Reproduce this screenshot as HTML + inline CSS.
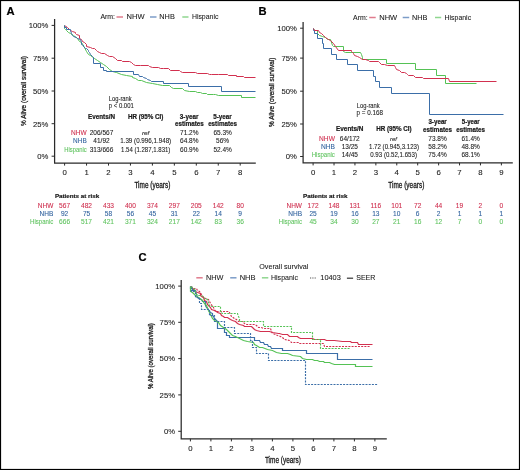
<!DOCTYPE html>
<html><head><meta charset="utf-8"><style>
html,body{margin:0;padding:0;background:#fff;}
svg{display:block;will-change:transform;}
text{font-family:"Liberation Sans", sans-serif;}
</style></head><body>
<svg width="520" height="470" viewBox="0 0 520 470" fill="#1a1a1a">
<rect width="520" height="470" fill="#fff"/>
<text x="6.60" y="14.70" font-size="11.2" font-weight="bold" fill="#000" stroke="#000" stroke-width="0.2">A</text>
<text x="100.40" y="19.10" font-size="7.3" textLength="14.60" lengthAdjust="spacingAndGlyphs" stroke="#1a1a1a" stroke-width="0.08">Arm:</text>
<line x1="116.50" y1="17.00" x2="123.00" y2="17.00" stroke="#e07b8d" stroke-width="1.5"/>
<text x="126.50" y="19.10" font-size="7.6" textLength="18.00" lengthAdjust="spacingAndGlyphs" stroke="#1a1a1a" stroke-width="0.08">NHW</text>
<line x1="150.00" y1="17.00" x2="156.50" y2="17.00" stroke="#7c9cc8" stroke-width="1.5"/>
<text x="159.30" y="19.10" font-size="7.6" textLength="15.50" lengthAdjust="spacingAndGlyphs" stroke="#1a1a1a" stroke-width="0.08">NHB</text>
<line x1="182.30" y1="17.00" x2="188.50" y2="17.00" stroke="#8fd68f" stroke-width="1.5"/>
<text x="191.90" y="19.10" font-size="7.6" textLength="26.50" lengthAdjust="spacingAndGlyphs" stroke="#1a1a1a" stroke-width="0.08">Hispanic</text>
<path d="M54.60,19.00 V163.00 H255.80" fill="none" stroke="#2a2a2a" stroke-width="1.25"/>
<line x1="51.60" y1="25.40" x2="54.60" y2="25.40" stroke="#2a2a2a" stroke-width="1.0"/>
<line x1="51.60" y1="58.20" x2="54.60" y2="58.20" stroke="#2a2a2a" stroke-width="1.0"/>
<line x1="51.60" y1="91.00" x2="54.60" y2="91.00" stroke="#2a2a2a" stroke-width="1.0"/>
<line x1="51.60" y1="123.70" x2="54.60" y2="123.70" stroke="#2a2a2a" stroke-width="1.0"/>
<line x1="51.60" y1="156.20" x2="54.60" y2="156.20" stroke="#2a2a2a" stroke-width="1.0"/>
<line x1="64.60" y1="163.00" x2="64.60" y2="165.60" stroke="#2a2a2a" stroke-width="1.0"/>
<text x="64.60" y="174.80" font-size="7.8" text-anchor="middle" stroke="#1a1a1a" stroke-width="0.08">0</text>
<line x1="86.55" y1="163.00" x2="86.55" y2="165.60" stroke="#2a2a2a" stroke-width="1.0"/>
<text x="86.55" y="174.80" font-size="7.8" text-anchor="middle" stroke="#1a1a1a" stroke-width="0.08">1</text>
<line x1="108.50" y1="163.00" x2="108.50" y2="165.60" stroke="#2a2a2a" stroke-width="1.0"/>
<text x="108.50" y="174.80" font-size="7.8" text-anchor="middle" stroke="#1a1a1a" stroke-width="0.08">2</text>
<line x1="130.45" y1="163.00" x2="130.45" y2="165.60" stroke="#2a2a2a" stroke-width="1.0"/>
<text x="130.45" y="174.80" font-size="7.8" text-anchor="middle" stroke="#1a1a1a" stroke-width="0.08">3</text>
<line x1="152.40" y1="163.00" x2="152.40" y2="165.60" stroke="#2a2a2a" stroke-width="1.0"/>
<text x="152.40" y="174.80" font-size="7.8" text-anchor="middle" stroke="#1a1a1a" stroke-width="0.08">4</text>
<line x1="174.35" y1="163.00" x2="174.35" y2="165.60" stroke="#2a2a2a" stroke-width="1.0"/>
<text x="174.35" y="174.80" font-size="7.8" text-anchor="middle" stroke="#1a1a1a" stroke-width="0.08">5</text>
<line x1="196.30" y1="163.00" x2="196.30" y2="165.60" stroke="#2a2a2a" stroke-width="1.0"/>
<text x="196.30" y="174.80" font-size="7.8" text-anchor="middle" stroke="#1a1a1a" stroke-width="0.08">6</text>
<line x1="218.25" y1="163.00" x2="218.25" y2="165.60" stroke="#2a2a2a" stroke-width="1.0"/>
<text x="218.25" y="174.80" font-size="7.8" text-anchor="middle" stroke="#1a1a1a" stroke-width="0.08">7</text>
<line x1="240.20" y1="163.00" x2="240.20" y2="165.60" stroke="#2a2a2a" stroke-width="1.0"/>
<text x="240.20" y="174.80" font-size="7.8" text-anchor="middle" stroke="#1a1a1a" stroke-width="0.08">8</text>
<text x="48.40" y="28.20" font-size="7.7" text-anchor="end" stroke="#1a1a1a" stroke-width="0.08">100%</text>
<text x="48.40" y="61.00" font-size="7.7" text-anchor="end" stroke="#1a1a1a" stroke-width="0.08">75%</text>
<text x="48.40" y="93.80" font-size="7.7" text-anchor="end" stroke="#1a1a1a" stroke-width="0.08">50%</text>
<text x="48.40" y="126.50" font-size="7.7" text-anchor="end" stroke="#1a1a1a" stroke-width="0.08">25%</text>
<text x="48.40" y="159.00" font-size="7.7" text-anchor="end" stroke="#1a1a1a" stroke-width="0.08">0%</text>
<text x="134.40" y="187.70" font-size="8.3" textLength="36.00" lengthAdjust="spacingAndGlyphs" stroke="#1a1a1a" stroke-width="0.3">Time (years)</text>
<text x="0.00" y="0.00" font-size="7.7" textLength="70.00" lengthAdjust="spacingAndGlyphs" stroke="#1a1a1a" stroke-width="0.3" transform="translate(25.7,126.0) rotate(-90)">% Alive (overall survival)</text>
<polyline points="64.50,25.50 67.50,27.50 69.50,29.50 70.50,30.50 72.50,31.50 75.50,32.50 75.50,33.50 76.50,34.50 79.50,35.50 79.50,38.50 81.50,39.50 82.50,41.50 84.50,42.50 86.50,44.50 86.50,46.50 90.50,47.50 92.50,48.50 94.50,48.50 96.50,50.50 97.50,51.50 99.50,52.50 101.50,53.50 104.50,53.50 107.50,55.50 109.50,56.50 112.50,56.50 115.50,58.50 117.50,60.50 121.50,60.50 122.50,61.50 129.50,61.50 131.50,62.50 133.50,64.50 135.50,65.50 140.50,65.50 148.50,65.50 149.50,66.50 152.50,67.50 158.50,67.50 160.50,68.50 163.50,68.50 168.50,68.50 170.50,70.50 179.50,70.50 180.50,71.50 182.50,72.50 195.50,72.50 197.50,73.50 207.50,73.50 209.50,74.50 211.50,74.50 218.50,74.50 227.50,74.50 228.50,75.50 236.50,75.50 236.50,76.50 243.50,76.50 244.50,77.50 255.50,77.50" fill="none" stroke="#d2304f" stroke-width="1.0" stroke-linejoin="miter"/>
<polyline points="64.50,25.50 64.50,28.50 65.50,29.50 66.50,30.50 68.50,32.50 70.50,33.50 73.50,35.50 77.50,38.50 79.50,41.50 81.50,42.50 84.50,47.50 86.50,51.50 88.50,54.50 90.50,55.50 94.50,58.50 97.50,60.50 100.50,62.50 103.50,64.50 106.50,66.50 109.50,69.50 112.50,71.50 116.50,72.50 121.50,74.50 126.50,75.50 132.50,76.50 132.50,77.50 135.50,78.50 138.50,80.50 141.50,80.50 146.50,82.50 152.50,83.50 157.50,84.50 162.50,85.50 169.50,85.50 171.50,87.50 173.50,88.50 182.50,88.50 184.50,90.50 189.50,91.50 195.50,91.50 197.50,92.50 200.50,92.50 202.50,93.50 206.50,93.50 207.50,94.50 213.50,94.50 215.50,94.50 218.50,95.50 241.50,95.50 241.50,97.50 255.50,97.50" fill="none" stroke="#55c255" stroke-width="1.0" stroke-linejoin="miter"/>
<polyline points="64.50,25.50 64.50,27.50 66.50,27.50 66.50,29.50 70.50,29.50 70.50,30.50 71.50,33.50 72.50,35.50 73.50,36.50 76.50,37.50 77.50,38.50 80.50,39.50 81.50,42.50 81.50,44.50 83.50,45.50 83.50,46.50 85.50,48.50 86.50,48.50 88.50,50.50 88.50,51.50 89.50,52.50 90.50,54.50 92.50,56.50 93.50,57.50 93.50,63.50 100.50,63.50 100.50,67.50 103.50,67.50 103.50,70.50 106.50,70.50 106.50,71.50 133.50,71.50 133.50,74.50 138.50,74.50 139.50,76.50 142.50,76.50 143.50,77.50 146.50,78.50 147.50,79.50 150.50,80.50 151.50,81.50 163.50,81.50 163.50,83.50 188.50,83.50 188.50,86.50 221.50,86.50 221.50,91.50 255.50,91.50" fill="none" stroke="#3b6ea8" stroke-width="1.0" stroke-linejoin="miter"/>
<text x="108.80" y="100.80" font-size="6.5" textLength="22.90" lengthAdjust="spacingAndGlyphs" stroke="#1a1a1a" stroke-width="0.08">Log-rank</text>
<text x="108.80" y="108.30" font-size="6.5" textLength="25.00" lengthAdjust="spacingAndGlyphs" stroke="#1a1a1a" stroke-width="0.08">p &lt; 0.001</text>
<text x="88.00" y="118.50" font-size="6.3" textLength="27.00" lengthAdjust="spacingAndGlyphs" font-weight="bold" stroke="#1a1a1a" stroke-width="0.2">Events/N</text>
<text x="127.90" y="118.50" font-size="6.3" textLength="35.50" lengthAdjust="spacingAndGlyphs" font-weight="bold" stroke="#1a1a1a" stroke-width="0.2">HR (95% CI)</text>
<text x="189.10" y="118.60" font-size="6.3" text-anchor="middle" textLength="18.60" lengthAdjust="spacingAndGlyphs" font-weight="bold" stroke="#1a1a1a" stroke-width="0.2">3-year</text>
<text x="189.40" y="125.90" font-size="6.6" text-anchor="middle" textLength="28.90" lengthAdjust="spacingAndGlyphs" font-weight="bold" stroke="#1a1a1a" stroke-width="0.2">estimates</text>
<text x="222.50" y="118.60" font-size="6.3" text-anchor="middle" textLength="18.50" lengthAdjust="spacingAndGlyphs" font-weight="bold" stroke="#1a1a1a" stroke-width="0.2">5-year</text>
<text x="222.60" y="125.90" font-size="6.6" text-anchor="middle" textLength="28.90" lengthAdjust="spacingAndGlyphs" font-weight="bold" stroke="#1a1a1a" stroke-width="0.2">estimates</text>
<text x="86.70" y="135.10" font-size="6.5" text-anchor="end" textLength="15.60" lengthAdjust="spacingAndGlyphs" fill="#cf2d4d" stroke="#cf2d4d" stroke-width="0.08">NHW</text>
<text x="101.50" y="135.10" font-size="6.5" text-anchor="middle" stroke="#1a1a1a" stroke-width="0.08">206/567</text>
<text x="145.60" y="134.80" font-size="5.9" text-anchor="middle" textLength="7.40" lengthAdjust="spacingAndGlyphs" font-style="italic" stroke="#1a1a1a" stroke-width="0.08">ref</text>
<text x="189.30" y="135.10" font-size="6.5" text-anchor="middle" stroke="#1a1a1a" stroke-width="0.08">71.2%</text>
<text x="222.60" y="135.10" font-size="6.5" text-anchor="middle" stroke="#1a1a1a" stroke-width="0.08">65.3%</text>
<text x="86.70" y="143.40" font-size="6.5" text-anchor="end" textLength="13.60" lengthAdjust="spacingAndGlyphs" fill="#30629e" stroke="#30629e" stroke-width="0.08">NHB</text>
<text x="101.50" y="143.40" font-size="6.5" text-anchor="middle" stroke="#1a1a1a" stroke-width="0.08">41/92</text>
<text x="145.70" y="143.40" font-size="6.4" text-anchor="middle" textLength="51.00" lengthAdjust="spacingAndGlyphs" stroke="#1a1a1a" stroke-width="0.08">1.39 (0.996,1.948)</text>
<text x="189.30" y="143.40" font-size="6.5" text-anchor="middle" stroke="#1a1a1a" stroke-width="0.08">64.8%</text>
<text x="222.60" y="143.40" font-size="6.5" text-anchor="middle" stroke="#1a1a1a" stroke-width="0.08">56%</text>
<text x="86.70" y="151.60" font-size="6.5" text-anchor="end" textLength="22.40" lengthAdjust="spacingAndGlyphs" fill="#5ec35e" stroke="#5ec35e" stroke-width="0.08">Hispanic</text>
<text x="101.50" y="151.60" font-size="6.5" text-anchor="middle" stroke="#1a1a1a" stroke-width="0.08">313/666</text>
<text x="145.70" y="151.60" font-size="6.4" text-anchor="middle" textLength="49.30" lengthAdjust="spacingAndGlyphs" stroke="#1a1a1a" stroke-width="0.08">1.54 (1.287,1.831)</text>
<text x="189.30" y="151.60" font-size="6.5" text-anchor="middle" stroke="#1a1a1a" stroke-width="0.08">60.9%</text>
<text x="222.60" y="151.60" font-size="6.5" text-anchor="middle" stroke="#1a1a1a" stroke-width="0.08">52.4%</text>
<text x="54.90" y="198.10" font-size="6.0" textLength="44.20" lengthAdjust="spacingAndGlyphs" font-weight="bold" stroke="#1a1a1a" stroke-width="0.2">Patients at risk</text>
<text x="53.30" y="207.50" font-size="6.6" text-anchor="end" textLength="15.50" lengthAdjust="spacingAndGlyphs" fill="#cf2d4d" stroke="#cf2d4d" stroke-width="0.08">NHW</text>
<text x="64.60" y="207.50" font-size="6.6" text-anchor="middle" fill="#cf2d4d" stroke="#cf2d4d" stroke-width="0.08">567</text>
<text x="86.55" y="207.50" font-size="6.6" text-anchor="middle" fill="#cf2d4d" stroke="#cf2d4d" stroke-width="0.08">482</text>
<text x="108.50" y="207.50" font-size="6.6" text-anchor="middle" fill="#cf2d4d" stroke="#cf2d4d" stroke-width="0.08">433</text>
<text x="130.45" y="207.50" font-size="6.6" text-anchor="middle" fill="#cf2d4d" stroke="#cf2d4d" stroke-width="0.08">400</text>
<text x="152.40" y="207.50" font-size="6.6" text-anchor="middle" fill="#cf2d4d" stroke="#cf2d4d" stroke-width="0.08">374</text>
<text x="174.35" y="207.50" font-size="6.6" text-anchor="middle" fill="#cf2d4d" stroke="#cf2d4d" stroke-width="0.08">297</text>
<text x="196.30" y="207.50" font-size="6.6" text-anchor="middle" fill="#cf2d4d" stroke="#cf2d4d" stroke-width="0.08">205</text>
<text x="218.25" y="207.50" font-size="6.6" text-anchor="middle" fill="#cf2d4d" stroke="#cf2d4d" stroke-width="0.08">142</text>
<text x="240.20" y="207.50" font-size="6.6" text-anchor="middle" fill="#cf2d4d" stroke="#cf2d4d" stroke-width="0.08">80</text>
<text x="53.30" y="215.80" font-size="6.6" text-anchor="end" textLength="13.80" lengthAdjust="spacingAndGlyphs" fill="#30629e" stroke="#30629e" stroke-width="0.08">NHB</text>
<text x="64.60" y="215.80" font-size="6.6" text-anchor="middle" fill="#30629e" stroke="#30629e" stroke-width="0.08">92</text>
<text x="86.55" y="215.80" font-size="6.6" text-anchor="middle" fill="#30629e" stroke="#30629e" stroke-width="0.08">75</text>
<text x="108.50" y="215.80" font-size="6.6" text-anchor="middle" fill="#30629e" stroke="#30629e" stroke-width="0.08">58</text>
<text x="130.45" y="215.80" font-size="6.6" text-anchor="middle" fill="#30629e" stroke="#30629e" stroke-width="0.08">56</text>
<text x="152.40" y="215.80" font-size="6.6" text-anchor="middle" fill="#30629e" stroke="#30629e" stroke-width="0.08">45</text>
<text x="174.35" y="215.80" font-size="6.6" text-anchor="middle" fill="#30629e" stroke="#30629e" stroke-width="0.08">31</text>
<text x="196.30" y="215.80" font-size="6.6" text-anchor="middle" fill="#30629e" stroke="#30629e" stroke-width="0.08">22</text>
<text x="218.25" y="215.80" font-size="6.6" text-anchor="middle" fill="#30629e" stroke="#30629e" stroke-width="0.08">14</text>
<text x="240.20" y="215.80" font-size="6.6" text-anchor="middle" fill="#30629e" stroke="#30629e" stroke-width="0.08">9</text>
<text x="53.30" y="223.80" font-size="6.6" text-anchor="end" textLength="23.20" lengthAdjust="spacingAndGlyphs" fill="#5ec35e" stroke="#5ec35e" stroke-width="0.08">Hispanic</text>
<text x="64.60" y="223.80" font-size="6.6" text-anchor="middle" fill="#5ec35e" stroke="#5ec35e" stroke-width="0.08">666</text>
<text x="86.55" y="223.80" font-size="6.6" text-anchor="middle" fill="#5ec35e" stroke="#5ec35e" stroke-width="0.08">517</text>
<text x="108.50" y="223.80" font-size="6.6" text-anchor="middle" fill="#5ec35e" stroke="#5ec35e" stroke-width="0.08">421</text>
<text x="130.45" y="223.80" font-size="6.6" text-anchor="middle" fill="#5ec35e" stroke="#5ec35e" stroke-width="0.08">371</text>
<text x="152.40" y="223.80" font-size="6.6" text-anchor="middle" fill="#5ec35e" stroke="#5ec35e" stroke-width="0.08">324</text>
<text x="174.35" y="223.80" font-size="6.6" text-anchor="middle" fill="#5ec35e" stroke="#5ec35e" stroke-width="0.08">217</text>
<text x="196.30" y="223.80" font-size="6.6" text-anchor="middle" fill="#5ec35e" stroke="#5ec35e" stroke-width="0.08">142</text>
<text x="218.25" y="223.80" font-size="6.6" text-anchor="middle" fill="#5ec35e" stroke="#5ec35e" stroke-width="0.08">83</text>
<text x="240.20" y="223.80" font-size="6.6" text-anchor="middle" fill="#5ec35e" stroke="#5ec35e" stroke-width="0.08">36</text>
<text x="258.60" y="14.90" font-size="11.2" font-weight="bold" fill="#000" stroke="#000" stroke-width="0.2">B</text>
<text x="353.10" y="19.60" font-size="7.3" textLength="14.60" lengthAdjust="spacingAndGlyphs" stroke="#1a1a1a" stroke-width="0.08">Arm:</text>
<line x1="369.20" y1="17.50" x2="375.70" y2="17.50" stroke="#e07b8d" stroke-width="1.5"/>
<text x="379.20" y="19.60" font-size="7.6" textLength="18.00" lengthAdjust="spacingAndGlyphs" stroke="#1a1a1a" stroke-width="0.08">NHW</text>
<line x1="402.70" y1="17.50" x2="409.20" y2="17.50" stroke="#7c9cc8" stroke-width="1.5"/>
<text x="412.00" y="19.60" font-size="7.6" textLength="15.50" lengthAdjust="spacingAndGlyphs" stroke="#1a1a1a" stroke-width="0.08">NHB</text>
<line x1="435.00" y1="17.50" x2="441.20" y2="17.50" stroke="#8fd68f" stroke-width="1.5"/>
<text x="444.60" y="19.60" font-size="7.6" textLength="26.50" lengthAdjust="spacingAndGlyphs" stroke="#1a1a1a" stroke-width="0.08">Hispanic</text>
<path d="M303.10,22.00 V162.80 H512.80" fill="none" stroke="#2a2a2a" stroke-width="1.25"/>
<line x1="300.10" y1="28.20" x2="303.10" y2="28.20" stroke="#2a2a2a" stroke-width="1.0"/>
<line x1="300.10" y1="58.10" x2="303.10" y2="58.10" stroke="#2a2a2a" stroke-width="1.0"/>
<line x1="300.10" y1="91.20" x2="303.10" y2="91.20" stroke="#2a2a2a" stroke-width="1.0"/>
<line x1="300.10" y1="124.00" x2="303.10" y2="124.00" stroke="#2a2a2a" stroke-width="1.0"/>
<line x1="300.10" y1="156.50" x2="303.10" y2="156.50" stroke="#2a2a2a" stroke-width="1.0"/>
<line x1="313.10" y1="162.80" x2="313.10" y2="165.40" stroke="#2a2a2a" stroke-width="1.0"/>
<text x="313.10" y="174.60" font-size="7.8" text-anchor="middle" stroke="#1a1a1a" stroke-width="0.08">0</text>
<line x1="334.02" y1="162.80" x2="334.02" y2="165.40" stroke="#2a2a2a" stroke-width="1.0"/>
<text x="334.02" y="174.60" font-size="7.8" text-anchor="middle" stroke="#1a1a1a" stroke-width="0.08">1</text>
<line x1="354.94" y1="162.80" x2="354.94" y2="165.40" stroke="#2a2a2a" stroke-width="1.0"/>
<text x="354.94" y="174.60" font-size="7.8" text-anchor="middle" stroke="#1a1a1a" stroke-width="0.08">2</text>
<line x1="375.86" y1="162.80" x2="375.86" y2="165.40" stroke="#2a2a2a" stroke-width="1.0"/>
<text x="375.86" y="174.60" font-size="7.8" text-anchor="middle" stroke="#1a1a1a" stroke-width="0.08">3</text>
<line x1="396.78" y1="162.80" x2="396.78" y2="165.40" stroke="#2a2a2a" stroke-width="1.0"/>
<text x="396.78" y="174.60" font-size="7.8" text-anchor="middle" stroke="#1a1a1a" stroke-width="0.08">4</text>
<line x1="417.70" y1="162.80" x2="417.70" y2="165.40" stroke="#2a2a2a" stroke-width="1.0"/>
<text x="417.70" y="174.60" font-size="7.8" text-anchor="middle" stroke="#1a1a1a" stroke-width="0.08">5</text>
<line x1="438.62" y1="162.80" x2="438.62" y2="165.40" stroke="#2a2a2a" stroke-width="1.0"/>
<text x="438.62" y="174.60" font-size="7.8" text-anchor="middle" stroke="#1a1a1a" stroke-width="0.08">6</text>
<line x1="459.54" y1="162.80" x2="459.54" y2="165.40" stroke="#2a2a2a" stroke-width="1.0"/>
<text x="459.54" y="174.60" font-size="7.8" text-anchor="middle" stroke="#1a1a1a" stroke-width="0.08">7</text>
<line x1="480.46" y1="162.80" x2="480.46" y2="165.40" stroke="#2a2a2a" stroke-width="1.0"/>
<text x="480.46" y="174.60" font-size="7.8" text-anchor="middle" stroke="#1a1a1a" stroke-width="0.08">8</text>
<line x1="501.38" y1="162.80" x2="501.38" y2="165.40" stroke="#2a2a2a" stroke-width="1.0"/>
<text x="501.38" y="174.60" font-size="7.8" text-anchor="middle" stroke="#1a1a1a" stroke-width="0.08">9</text>
<text x="296.80" y="31.00" font-size="7.7" text-anchor="end" stroke="#1a1a1a" stroke-width="0.08">100%</text>
<text x="296.80" y="60.90" font-size="7.7" text-anchor="end" stroke="#1a1a1a" stroke-width="0.08">75%</text>
<text x="296.80" y="94.00" font-size="7.7" text-anchor="end" stroke="#1a1a1a" stroke-width="0.08">50%</text>
<text x="296.80" y="126.80" font-size="7.7" text-anchor="end" stroke="#1a1a1a" stroke-width="0.08">25%</text>
<text x="296.80" y="159.30" font-size="7.7" text-anchor="end" stroke="#1a1a1a" stroke-width="0.08">0%</text>
<text x="388.30" y="187.70" font-size="8.3" textLength="36.00" lengthAdjust="spacingAndGlyphs" stroke="#1a1a1a" stroke-width="0.3">Time (years)</text>
<text x="0.00" y="0.00" font-size="7.8" textLength="69.20" lengthAdjust="spacingAndGlyphs" stroke="#1a1a1a" stroke-width="0.3" transform="translate(274.2,126.9) rotate(-90)">% Alive (overall survival)</text>
<polyline points="313.50,28.50 314.50,30.50 317.50,30.50 317.50,33.50 319.50,35.50 322.50,36.50 325.50,37.50 327.50,39.50 330.50,39.50 332.50,45.50 333.50,46.50 343.50,46.50 343.50,51.50 345.50,52.50 360.50,52.50 361.50,54.50 362.50,57.50 362.50,59.50 386.50,59.50 386.50,63.50 415.50,63.50 415.50,69.50 436.50,69.50 436.50,75.50 445.50,75.50 445.50,83.50 476.50,83.50" fill="none" stroke="#55c255" stroke-width="1.0" stroke-linejoin="miter"/>
<polyline points="313.50,28.50 313.50,30.50 314.50,30.50 314.50,33.50 317.50,33.50 317.50,38.50 322.50,38.50 322.50,43.50 323.50,43.50 323.50,48.50 331.50,48.50 331.50,54.50 336.50,54.50 336.50,59.50 347.50,59.50 347.50,64.50 357.50,64.50 357.50,70.50 373.50,70.50 373.50,76.50 375.50,76.50 375.50,81.50 379.50,81.50 379.50,87.50 391.50,87.50 391.50,93.50 429.50,93.50 429.50,114.50 503.50,114.50" fill="none" stroke="#3b6ea8" stroke-width="1.0" stroke-linejoin="miter"/>
<polyline points="313.50,28.50 314.50,30.50 318.50,30.50 319.50,32.50 321.50,33.50 323.50,35.50 325.50,37.50 328.50,39.50 330.50,40.50 333.50,43.50 335.50,46.50 338.50,50.50 351.50,50.50 351.50,51.50 353.50,53.50 354.50,55.50 357.50,56.50 359.50,57.50 362.50,59.50 365.50,59.50 368.50,60.50 369.50,61.50 378.50,61.50 379.50,62.50 381.50,64.50 384.50,64.50 387.50,65.50 394.50,65.50 395.50,67.50 396.50,69.50 399.50,70.50 401.50,72.50 404.50,72.50 406.50,73.50 407.50,74.50 408.50,75.50 413.50,75.50 415.50,77.50 422.50,77.50 423.50,78.50 448.50,78.50 449.50,81.50 496.50,81.50" fill="none" stroke="#d2304f" stroke-width="1.0" stroke-linejoin="miter"/>
<text x="356.80" y="108.20" font-size="6.5" textLength="22.90" lengthAdjust="spacingAndGlyphs" stroke="#1a1a1a" stroke-width="0.08">Log-rank</text>
<text x="356.60" y="115.40" font-size="6.5" textLength="26.40" lengthAdjust="spacingAndGlyphs" stroke="#1a1a1a" stroke-width="0.08">p = 0.168</text>
<text x="336.00" y="131.30" font-size="6.3" textLength="27.40" lengthAdjust="spacingAndGlyphs" font-weight="bold" stroke="#1a1a1a" stroke-width="0.2">Events/N</text>
<text x="376.20" y="131.30" font-size="6.3" textLength="35.50" lengthAdjust="spacingAndGlyphs" font-weight="bold" stroke="#1a1a1a" stroke-width="0.2">HR (95% CI)</text>
<text x="437.60" y="124.40" font-size="6.3" text-anchor="middle" textLength="18.40" lengthAdjust="spacingAndGlyphs" font-weight="bold" stroke="#1a1a1a" stroke-width="0.2">3-year</text>
<text x="437.50" y="131.60" font-size="6.6" text-anchor="middle" textLength="28.90" lengthAdjust="spacingAndGlyphs" font-weight="bold" stroke="#1a1a1a" stroke-width="0.2">estimates</text>
<text x="470.70" y="124.40" font-size="6.3" text-anchor="middle" textLength="17.80" lengthAdjust="spacingAndGlyphs" font-weight="bold" stroke="#1a1a1a" stroke-width="0.2">5-year</text>
<text x="470.60" y="131.60" font-size="6.6" text-anchor="middle" textLength="28.80" lengthAdjust="spacingAndGlyphs" font-weight="bold" stroke="#1a1a1a" stroke-width="0.2">estimates</text>
<text x="334.90" y="140.70" font-size="6.5" text-anchor="end" textLength="15.80" lengthAdjust="spacingAndGlyphs" fill="#cf2d4d" stroke="#cf2d4d" stroke-width="0.08">NHW</text>
<text x="349.80" y="140.70" font-size="6.5" text-anchor="middle" stroke="#1a1a1a" stroke-width="0.08">64/172</text>
<text x="393.40" y="140.50" font-size="5.9" text-anchor="middle" textLength="6.80" lengthAdjust="spacingAndGlyphs" font-style="italic" stroke="#1a1a1a" stroke-width="0.08">ref</text>
<text x="437.50" y="140.70" font-size="6.5" text-anchor="middle" stroke="#1a1a1a" stroke-width="0.08">73.8%</text>
<text x="470.70" y="140.70" font-size="6.5" text-anchor="middle" stroke="#1a1a1a" stroke-width="0.08">61.4%</text>
<text x="334.90" y="148.90" font-size="6.5" text-anchor="end" textLength="14.00" lengthAdjust="spacingAndGlyphs" fill="#30629e" stroke="#30629e" stroke-width="0.08">NHB</text>
<text x="349.80" y="148.90" font-size="6.5" text-anchor="middle" stroke="#1a1a1a" stroke-width="0.08">13/25</text>
<text x="394.00" y="148.90" font-size="6.4" text-anchor="middle" textLength="50.00" lengthAdjust="spacingAndGlyphs" stroke="#1a1a1a" stroke-width="0.08">1.72 (0.945,3.123)</text>
<text x="437.50" y="148.90" font-size="6.5" text-anchor="middle" stroke="#1a1a1a" stroke-width="0.08">58.2%</text>
<text x="470.70" y="148.90" font-size="6.5" text-anchor="middle" stroke="#1a1a1a" stroke-width="0.08">48.8%</text>
<text x="334.90" y="156.90" font-size="6.5" text-anchor="end" textLength="23.20" lengthAdjust="spacingAndGlyphs" fill="#5ec35e" stroke="#5ec35e" stroke-width="0.08">Hispanic</text>
<text x="349.80" y="156.90" font-size="6.5" text-anchor="middle" stroke="#1a1a1a" stroke-width="0.08">14/45</text>
<text x="393.60" y="156.90" font-size="6.4" text-anchor="middle" textLength="46.70" lengthAdjust="spacingAndGlyphs" stroke="#1a1a1a" stroke-width="0.08">0.93 (0.52,1.653)</text>
<text x="437.50" y="156.90" font-size="6.5" text-anchor="middle" stroke="#1a1a1a" stroke-width="0.08">75.4%</text>
<text x="470.70" y="156.90" font-size="6.5" text-anchor="middle" stroke="#1a1a1a" stroke-width="0.08">68.1%</text>
<text x="303.00" y="198.10" font-size="6.0" textLength="44.50" lengthAdjust="spacingAndGlyphs" font-weight="bold" stroke="#1a1a1a" stroke-width="0.2">Patients at risk</text>
<text x="302.00" y="207.50" font-size="6.6" text-anchor="end" textLength="15.50" lengthAdjust="spacingAndGlyphs" fill="#cf2d4d" stroke="#cf2d4d" stroke-width="0.08">NHW</text>
<text x="313.10" y="207.50" font-size="6.6" text-anchor="middle" fill="#cf2d4d" stroke="#cf2d4d" stroke-width="0.08">172</text>
<text x="334.02" y="207.50" font-size="6.6" text-anchor="middle" fill="#cf2d4d" stroke="#cf2d4d" stroke-width="0.08">148</text>
<text x="354.94" y="207.50" font-size="6.6" text-anchor="middle" fill="#cf2d4d" stroke="#cf2d4d" stroke-width="0.08">131</text>
<text x="375.86" y="207.50" font-size="6.6" text-anchor="middle" fill="#cf2d4d" stroke="#cf2d4d" stroke-width="0.08">116</text>
<text x="396.78" y="207.50" font-size="6.6" text-anchor="middle" fill="#cf2d4d" stroke="#cf2d4d" stroke-width="0.08">101</text>
<text x="417.70" y="207.50" font-size="6.6" text-anchor="middle" fill="#cf2d4d" stroke="#cf2d4d" stroke-width="0.08">72</text>
<text x="438.62" y="207.50" font-size="6.6" text-anchor="middle" fill="#cf2d4d" stroke="#cf2d4d" stroke-width="0.08">44</text>
<text x="459.54" y="207.50" font-size="6.6" text-anchor="middle" fill="#cf2d4d" stroke="#cf2d4d" stroke-width="0.08">19</text>
<text x="480.46" y="207.50" font-size="6.6" text-anchor="middle" fill="#cf2d4d" stroke="#cf2d4d" stroke-width="0.08">2</text>
<text x="501.38" y="207.50" font-size="6.6" text-anchor="middle" fill="#cf2d4d" stroke="#cf2d4d" stroke-width="0.08">0</text>
<text x="302.00" y="215.80" font-size="6.6" text-anchor="end" textLength="13.80" lengthAdjust="spacingAndGlyphs" fill="#30629e" stroke="#30629e" stroke-width="0.08">NHB</text>
<text x="313.10" y="215.80" font-size="6.6" text-anchor="middle" fill="#30629e" stroke="#30629e" stroke-width="0.08">25</text>
<text x="334.02" y="215.80" font-size="6.6" text-anchor="middle" fill="#30629e" stroke="#30629e" stroke-width="0.08">19</text>
<text x="354.94" y="215.80" font-size="6.6" text-anchor="middle" fill="#30629e" stroke="#30629e" stroke-width="0.08">16</text>
<text x="375.86" y="215.80" font-size="6.6" text-anchor="middle" fill="#30629e" stroke="#30629e" stroke-width="0.08">13</text>
<text x="396.78" y="215.80" font-size="6.6" text-anchor="middle" fill="#30629e" stroke="#30629e" stroke-width="0.08">10</text>
<text x="417.70" y="215.80" font-size="6.6" text-anchor="middle" fill="#30629e" stroke="#30629e" stroke-width="0.08">6</text>
<text x="438.62" y="215.80" font-size="6.6" text-anchor="middle" fill="#30629e" stroke="#30629e" stroke-width="0.08">2</text>
<text x="459.54" y="215.80" font-size="6.6" text-anchor="middle" fill="#30629e" stroke="#30629e" stroke-width="0.08">1</text>
<text x="480.46" y="215.80" font-size="6.6" text-anchor="middle" fill="#30629e" stroke="#30629e" stroke-width="0.08">1</text>
<text x="501.38" y="215.80" font-size="6.6" text-anchor="middle" fill="#30629e" stroke="#30629e" stroke-width="0.08">1</text>
<text x="302.00" y="223.80" font-size="6.6" text-anchor="end" textLength="23.20" lengthAdjust="spacingAndGlyphs" fill="#5ec35e" stroke="#5ec35e" stroke-width="0.08">Hispanic</text>
<text x="313.10" y="223.80" font-size="6.6" text-anchor="middle" fill="#5ec35e" stroke="#5ec35e" stroke-width="0.08">45</text>
<text x="334.02" y="223.80" font-size="6.6" text-anchor="middle" fill="#5ec35e" stroke="#5ec35e" stroke-width="0.08">34</text>
<text x="354.94" y="223.80" font-size="6.6" text-anchor="middle" fill="#5ec35e" stroke="#5ec35e" stroke-width="0.08">30</text>
<text x="375.86" y="223.80" font-size="6.6" text-anchor="middle" fill="#5ec35e" stroke="#5ec35e" stroke-width="0.08">27</text>
<text x="396.78" y="223.80" font-size="6.6" text-anchor="middle" fill="#5ec35e" stroke="#5ec35e" stroke-width="0.08">21</text>
<text x="417.70" y="223.80" font-size="6.6" text-anchor="middle" fill="#5ec35e" stroke="#5ec35e" stroke-width="0.08">16</text>
<text x="438.62" y="223.80" font-size="6.6" text-anchor="middle" fill="#5ec35e" stroke="#5ec35e" stroke-width="0.08">12</text>
<text x="459.54" y="223.80" font-size="6.6" text-anchor="middle" fill="#5ec35e" stroke="#5ec35e" stroke-width="0.08">7</text>
<text x="480.46" y="223.80" font-size="6.6" text-anchor="middle" fill="#5ec35e" stroke="#5ec35e" stroke-width="0.08">0</text>
<text x="501.38" y="223.80" font-size="6.6" text-anchor="middle" fill="#5ec35e" stroke="#5ec35e" stroke-width="0.08">0</text>
<text x="138.40" y="260.60" font-size="11.2" font-weight="bold" fill="#000" stroke="#000" stroke-width="0.2">C</text>
<text x="259.30" y="269.30" font-size="7.4" textLength="49.00" lengthAdjust="spacingAndGlyphs" stroke="#1a1a1a" stroke-width="0.08">Overall survival</text>
<line x1="196.30" y1="277.80" x2="202.70" y2="277.80" stroke="#e07b8d" stroke-width="1.5"/>
<text x="205.90" y="280.30" font-size="7.6" textLength="17.50" lengthAdjust="spacingAndGlyphs" stroke="#1a1a1a" stroke-width="0.08">NHW</text>
<line x1="230.20" y1="277.80" x2="236.50" y2="277.80" stroke="#7c9cc8" stroke-width="1.5"/>
<text x="239.70" y="280.30" font-size="7.6" textLength="15.90" lengthAdjust="spacingAndGlyphs" stroke="#1a1a1a" stroke-width="0.08">NHB</text>
<line x1="261.90" y1="277.80" x2="268.30" y2="277.80" stroke="#8fd68f" stroke-width="1.5"/>
<text x="271.00" y="280.30" font-size="7.6" textLength="26.90" lengthAdjust="spacingAndGlyphs" stroke="#1a1a1a" stroke-width="0.08">Hispanic</text>
<line x1="310.00" y1="278.00" x2="316.30" y2="278.00" stroke="#555" stroke-width="1.1" stroke-dasharray="1.2,1.1"/>
<text x="320.30" y="280.30" font-size="7.6" textLength="20.50" lengthAdjust="spacingAndGlyphs" stroke="#1a1a1a" stroke-width="0.08">10403</text>
<line x1="346.90" y1="278.20" x2="353.10" y2="278.20" stroke="#333" stroke-width="1.2"/>
<text x="356.20" y="280.30" font-size="7.6" textLength="19.20" lengthAdjust="spacingAndGlyphs" stroke="#1a1a1a" stroke-width="0.08">SEER</text>
<path d="M181.20,280.00 V438.80 H386.80" fill="none" stroke="#2a2a2a" stroke-width="1.25"/>
<line x1="178.20" y1="286.10" x2="181.20" y2="286.10" stroke="#2a2a2a" stroke-width="1.0"/>
<line x1="178.20" y1="322.30" x2="181.20" y2="322.30" stroke="#2a2a2a" stroke-width="1.0"/>
<line x1="178.20" y1="358.60" x2="181.20" y2="358.60" stroke="#2a2a2a" stroke-width="1.0"/>
<line x1="178.20" y1="394.90" x2="181.20" y2="394.90" stroke="#2a2a2a" stroke-width="1.0"/>
<line x1="178.20" y1="431.30" x2="181.20" y2="431.30" stroke="#2a2a2a" stroke-width="1.0"/>
<line x1="190.40" y1="438.80" x2="190.40" y2="441.40" stroke="#2a2a2a" stroke-width="1.0"/>
<text x="190.40" y="450.60" font-size="7.8" text-anchor="middle" stroke="#1a1a1a" stroke-width="0.08">0</text>
<line x1="210.90" y1="438.80" x2="210.90" y2="441.40" stroke="#2a2a2a" stroke-width="1.0"/>
<text x="210.90" y="450.60" font-size="7.8" text-anchor="middle" stroke="#1a1a1a" stroke-width="0.08">1</text>
<line x1="231.40" y1="438.80" x2="231.40" y2="441.40" stroke="#2a2a2a" stroke-width="1.0"/>
<text x="231.40" y="450.60" font-size="7.8" text-anchor="middle" stroke="#1a1a1a" stroke-width="0.08">2</text>
<line x1="251.90" y1="438.80" x2="251.90" y2="441.40" stroke="#2a2a2a" stroke-width="1.0"/>
<text x="251.90" y="450.60" font-size="7.8" text-anchor="middle" stroke="#1a1a1a" stroke-width="0.08">3</text>
<line x1="272.40" y1="438.80" x2="272.40" y2="441.40" stroke="#2a2a2a" stroke-width="1.0"/>
<text x="272.40" y="450.60" font-size="7.8" text-anchor="middle" stroke="#1a1a1a" stroke-width="0.08">4</text>
<line x1="292.90" y1="438.80" x2="292.90" y2="441.40" stroke="#2a2a2a" stroke-width="1.0"/>
<text x="292.90" y="450.60" font-size="7.8" text-anchor="middle" stroke="#1a1a1a" stroke-width="0.08">5</text>
<line x1="313.40" y1="438.80" x2="313.40" y2="441.40" stroke="#2a2a2a" stroke-width="1.0"/>
<text x="313.40" y="450.60" font-size="7.8" text-anchor="middle" stroke="#1a1a1a" stroke-width="0.08">6</text>
<line x1="333.90" y1="438.80" x2="333.90" y2="441.40" stroke="#2a2a2a" stroke-width="1.0"/>
<text x="333.90" y="450.60" font-size="7.8" text-anchor="middle" stroke="#1a1a1a" stroke-width="0.08">7</text>
<line x1="354.40" y1="438.80" x2="354.40" y2="441.40" stroke="#2a2a2a" stroke-width="1.0"/>
<text x="354.40" y="450.60" font-size="7.8" text-anchor="middle" stroke="#1a1a1a" stroke-width="0.08">8</text>
<line x1="374.90" y1="438.80" x2="374.90" y2="441.40" stroke="#2a2a2a" stroke-width="1.0"/>
<text x="374.90" y="450.60" font-size="7.8" text-anchor="middle" stroke="#1a1a1a" stroke-width="0.08">9</text>
<text x="175.00" y="288.90" font-size="7.7" text-anchor="end" stroke="#1a1a1a" stroke-width="0.08">100%</text>
<text x="175.00" y="325.10" font-size="7.7" text-anchor="end" stroke="#1a1a1a" stroke-width="0.08">75%</text>
<text x="175.00" y="361.40" font-size="7.7" text-anchor="end" stroke="#1a1a1a" stroke-width="0.08">50%</text>
<text x="175.00" y="397.70" font-size="7.7" text-anchor="end" stroke="#1a1a1a" stroke-width="0.08">25%</text>
<text x="175.00" y="434.10" font-size="7.7" text-anchor="end" stroke="#1a1a1a" stroke-width="0.08">0%</text>
<text x="264.90" y="462.80" font-size="8.3" textLength="36.00" lengthAdjust="spacingAndGlyphs" stroke="#1a1a1a" stroke-width="0.3">Time (years)</text>
<text x="0.00" y="0.00" font-size="7.0" textLength="66.00" lengthAdjust="spacingAndGlyphs" stroke="#1a1a1a" stroke-width="0.3" transform="translate(152.5,389.1) rotate(-90)">% Alive (overall survival)</text>
<polyline points="190.50,286.50 192.50,288.50 194.50,290.50 195.50,291.50 197.50,292.50 200.50,293.50 200.50,295.50 201.50,296.50 203.50,297.50 204.50,300.50 206.50,301.50 207.50,304.50 208.50,305.50 210.50,307.50 211.50,309.50 214.50,310.50 216.50,311.50 217.50,312.50 220.50,313.50 221.50,315.50 223.50,316.50 224.50,317.50 227.50,317.50 230.50,319.50 232.50,320.50 235.50,321.50 237.50,323.50 239.50,324.50 243.50,325.50 244.50,326.50 251.50,326.50 252.50,327.50 254.50,329.50 256.50,330.50 260.50,331.50 268.50,331.50 269.50,331.50 272.50,332.50 278.50,333.50 279.50,333.50 282.50,334.50 287.50,334.50 289.50,336.50 297.50,336.50 298.50,337.50 300.50,338.50 312.50,338.50 314.50,339.50 324.50,339.50 326.50,340.50 327.50,340.50 334.50,340.50 342.50,341.50 343.50,341.50 350.50,341.50 351.50,342.50 357.50,342.50 358.50,344.50 372.50,344.50" fill="none" stroke="#d2304f" stroke-width="1.2" stroke-linejoin="miter"/>
<polyline points="190.50,286.50 190.50,288.50 192.50,288.50 192.50,290.50 195.50,290.50 195.50,291.50 196.50,294.50 197.50,297.50 198.50,298.50 201.50,299.50 202.50,301.50 205.50,301.50 205.50,305.50 206.50,307.50 207.50,308.50 208.50,309.50 209.50,311.50 210.50,312.50 212.50,313.50 212.50,315.50 213.50,316.50 214.50,318.50 216.50,320.50 217.50,321.50 217.50,328.50 224.50,328.50 224.50,332.50 226.50,332.50 226.50,335.50 229.50,335.50 229.50,337.50 254.50,337.50 254.50,340.50 259.50,340.50 260.50,342.50 263.50,342.50 264.50,344.50 267.50,344.50 268.50,346.50 270.50,346.50 271.50,348.50 282.50,348.50 282.50,350.50 306.50,350.50 306.50,353.50 337.50,353.50 337.50,359.50 372.50,359.50" fill="none" stroke="#3b6ea8" stroke-width="1.2" stroke-linejoin="miter"/>
<polyline points="190.50,286.50 190.50,289.50 190.50,291.50 192.50,292.50 193.50,293.50 195.50,295.50 198.50,297.50 202.50,300.50 204.50,303.50 206.50,305.50 208.50,310.50 210.50,314.50 212.50,318.50 214.50,320.50 218.50,322.50 220.50,325.50 223.50,327.50 226.50,329.50 229.50,332.50 232.50,335.50 235.50,336.50 239.50,338.50 243.50,340.50 247.50,341.50 253.50,342.50 254.50,344.50 256.50,345.50 259.50,347.50 262.50,347.50 267.50,349.50 272.50,350.50 276.50,352.50 281.50,353.50 287.50,353.50 290.50,354.50 292.50,355.50 300.50,356.50 302.50,358.50 306.50,359.50 312.50,359.50 314.50,360.50 317.50,360.50 319.50,361.50 323.50,361.50 324.50,362.50 329.50,362.50 331.50,363.50 334.50,364.50 355.50,364.50 355.50,366.50 372.50,366.50" fill="none" stroke="#55c255" stroke-width="1.2" stroke-linejoin="miter"/>
<polyline points="191.50,286.50 192.50,288.50 196.50,288.50 197.50,290.50 199.50,291.50 201.50,294.50 203.50,297.50 205.50,298.50 208.50,299.50 210.50,303.50 213.50,307.50 215.50,311.50 228.50,311.50 229.50,312.50 230.50,314.50 231.50,316.50 234.50,318.50 236.50,319.50 238.50,321.50 242.50,321.50 244.50,323.50 246.50,324.50 254.50,324.50 256.50,325.50 258.50,327.50 261.50,327.50 263.50,328.50 270.50,328.50 271.50,331.50 272.50,333.50 275.50,334.50 277.50,335.50 280.50,336.50 282.50,337.50 283.50,338.50 284.50,339.50 289.50,340.50 291.50,342.50 298.50,342.50 299.50,343.50 323.50,343.50 324.50,346.50 370.50,346.50" fill="none" stroke="#d2304f" stroke-width="1.15" stroke-linejoin="miter" stroke-dasharray="2,1.2"/>
<polyline points="191.50,286.50 191.50,288.50 191.50,289.50 191.50,291.50 195.50,291.50 195.50,297.50 199.50,297.50 199.50,303.50 201.50,303.50 201.50,309.50 209.50,309.50 209.50,315.50 214.50,315.50 214.50,321.50 224.50,321.50 224.50,327.50 234.50,327.50 234.50,333.50 250.50,333.50 250.50,340.50 252.50,340.50 252.50,347.50 256.50,347.50 256.50,353.50 268.50,353.50 268.50,360.50 305.50,360.50 305.50,384.50 377.50,384.50" fill="none" stroke="#3b6ea8" stroke-width="1.15" stroke-linejoin="miter" stroke-dasharray="2,1.2"/>
<polyline points="191.50,286.50 192.50,288.50 195.50,289.50 195.50,292.50 197.50,295.50 200.50,295.50 203.50,296.50 204.50,298.50 207.50,299.50 209.50,305.50 210.50,306.50 220.50,306.50 220.50,312.50 222.50,313.50 237.50,313.50 238.50,316.50 239.50,318.50 239.50,321.50 263.50,321.50 263.50,326.50 291.50,326.50 291.50,332.50 312.50,332.50 312.50,339.50 320.50,339.50 320.50,348.50 350.50,348.50" fill="none" stroke="#55c255" stroke-width="1.15" stroke-linejoin="miter" stroke-dasharray="2,1.2"/>
<rect x="0.5" y="0.5" width="519" height="469" fill="none" stroke="#000" stroke-width="1.2"/>
</svg>
</body></html>
